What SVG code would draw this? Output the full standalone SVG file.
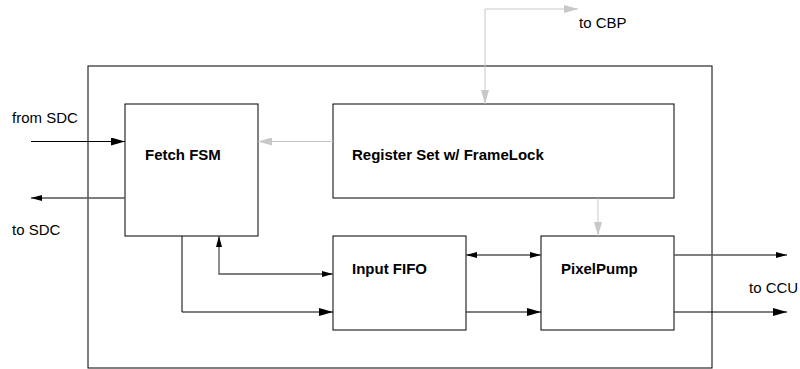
<svg xmlns="http://www.w3.org/2000/svg" width="800" height="369" viewBox="0 0 800 369">
<defs>
<style>
.box{fill:#fff;stroke:#000;stroke-width:1}
.lbl{font-family:"Liberation Sans",Arial,sans-serif;font-size:15px;fill:#000}
.b{font-weight:bold}
.blk{fill:none;stroke:#000;stroke-width:1}
.dk{fill:none;stroke:#555;stroke-width:1.3}
.gr{fill:none;stroke:#c8c8c8;stroke-width:1}
</style>
<marker id="big" viewBox="0 0 14 8" refX="14" refY="4" markerWidth="14" markerHeight="8" markerUnits="userSpaceOnUse" orient="auto-start-reverse"><path d="M0,0 L14,4 L0,8 Z" fill="#000"/></marker>
<marker id="sm" viewBox="0 0 11 6" refX="11" refY="3" markerWidth="11" markerHeight="6" markerUnits="userSpaceOnUse" orient="auto-start-reverse"><path d="M0,0 L11,3 L0,6 Z" fill="#000"/></marker>
<marker id="gbig" viewBox="0 0 14 8" refX="14" refY="4" markerWidth="14" markerHeight="8" markerUnits="userSpaceOnUse" orient="auto-start-reverse"><path d="M0,0 L14,4 L0,8 Z" fill="#c8c8c8"/></marker>
</defs>
<rect width="800" height="369" fill="#fff"/>
<rect x="88" y="66" width="624" height="302" class="box"/>
<g id="fetch"><rect x="125" y="104" width="133" height="132" class="box"/><text x="145" y="160" class="lbl b">Fetch FSM</text></g>
<g id="regset"><rect x="333" y="104" width="341" height="94" class="box"/><text x="352" y="160" class="lbl b">Register Set w/ FrameLock</text></g>
<g id="fifo"><rect x="333" y="236" width="133" height="94" class="box"/><text x="352" y="274" class="lbl b">Input FIFO</text></g>
<g id="pump"><rect x="541" y="236" width="133" height="94" class="box"/><text x="561" y="274" class="lbl b">PixelPump</text></g>
<g id="labels">
<text x="12" y="123" class="lbl">from SDC</text>
<text x="12" y="235" class="lbl">to SDC</text>
<text x="579" y="28" class="lbl">to CBP</text>
<text x="749" y="293" class="lbl">to CCU</text>
</g>
<g id="connectors">
<path d="M31,141.5 H125" class="blk" marker-end="url(#big)"/>
<path d="M125,198 H31" class="dk" marker-end="url(#sm)"/>
<path d="M333,141.5 H258" class="gr" marker-end="url(#gbig)"/>
<path d="M485,104 V9 H578" class="gr" marker-start="url(#gbig)" marker-end="url(#gbig)"/>
<path d="M598,198 V236" class="gr" marker-end="url(#gbig)"/>
<path d="M182,236 V312 H333" class="blk" marker-end="url(#big)"/>
<path d="M219,236 V274 H333" class="dk" marker-start="url(#sm)" marker-end="url(#sm)"/>
<path d="M466,255 H541" class="dk" marker-start="url(#sm)" marker-end="url(#sm)"/>
<path d="M466,312 H541" class="blk" marker-end="url(#big)"/>
<path d="M674,255 H787" class="dk" marker-end="url(#sm)"/>
<path d="M674,312 H787" class="blk" marker-end="url(#big)"/>
</g>
</svg>
